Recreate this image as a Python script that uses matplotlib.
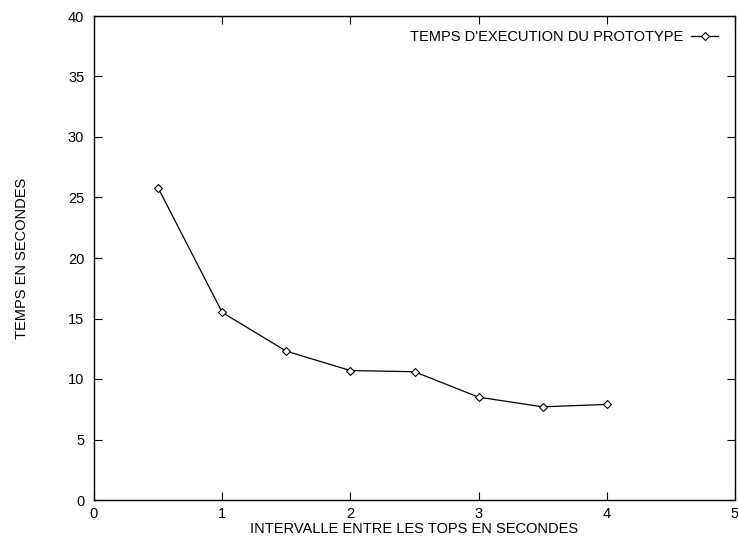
import matplotlib
matplotlib.use("Agg")
import matplotlib.pyplot as plt

# Execution time of the prototype versus the interval between ticks
intervals = [0.5, 1.0, 1.5, 2.0, 2.5, 3.0, 3.5, 4.0]
exec_times = [25.8, 15.5, 12.3, 10.7, 10.6, 8.5, 7.7, 7.9]

x_ticks = [0, 1, 2, 3, 4, 5]
y_ticks = [0, 5, 10, 15, 20, 25, 30, 35, 40]

plt.rcParams["font.family"] = ["Liberation Sans", "DejaVu Sans"]
plt.rcParams["font.size"] = 10.5

W, H = 738, 537
fig = plt.figure(figsize=(W / 100, H / 100), dpi=100)
left, right, top, bottom = 94, 735, 16, 500
ax = fig.add_axes([left / W, 1 - bottom / H, (right - left) / W, (bottom - top) / H])

ax.plot(intervals, exec_times, color="black", linewidth=0.9,
        marker="D", markersize=4.2, markerfacecolor="white",
        markeredgecolor="black", markeredgewidth=0.8,
        label="TEMPS D'EXECUTION DU PROTOTYPE")

ax.set_xlim(0, 5)
ax.set_ylim(0, 40)
ax.set_xticks(x_ticks)
ax.set_yticks(y_ticks)
ax.tick_params(direction="in", length=6, width=0.8, top=True, right=True,
               labeltop=False, labelright=False)
ax.tick_params(axis="y", pad=7)
ax.tick_params(axis="x", pad=5)
for s in ax.spines.values():
    s.set_linewidth(1.0)

ax.set_xlabel("INTERVALLE ENTRE LES TOPS EN SECONDES", labelpad=1)
ax.set_ylabel("TEMPS EN SECONDES", labelpad=28)

leg = ax.legend(loc="center right", frameon=False, markerfirst=False,
                handlelength=1.85, borderaxespad=0, borderpad=0,
                handletextpad=0.5,
                bbox_to_anchor=(718 / W, 1 - 37 / H),
                bbox_transform=fig.transFigure)

fig.savefig("out.png", dpi=100)
